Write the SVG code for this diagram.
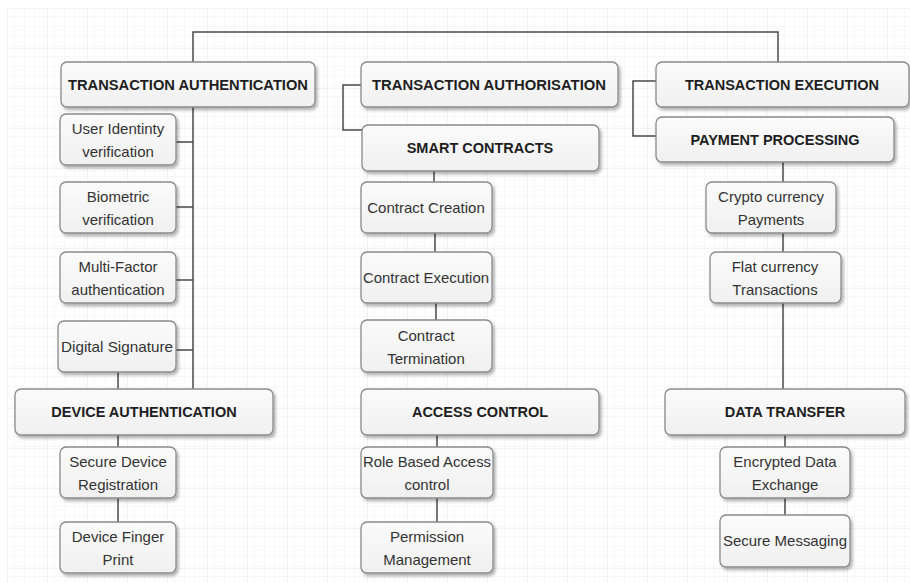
<svg xmlns="http://www.w3.org/2000/svg" width="910" height="583" viewBox="0 0 910 583">
<defs>
<pattern id="minor" width="10" height="10" patternUnits="userSpaceOnUse" x="7" y="8">
<path d="M10 0H0V10" fill="none" stroke="#f2f2f2" stroke-width="1"/>
</pattern>
<pattern id="major" width="40" height="40" patternUnits="userSpaceOnUse" x="7" y="8">
<rect width="40" height="40" fill="url(#minor)"/>
<path d="M40 0H0V40" fill="none" stroke="#e8e8e8" stroke-width="1.2"/>
</pattern>
<linearGradient id="boxg" x1="0" y1="0" x2="0" y2="1">
<stop offset="0" stop-color="#fbfbfb"/>
<stop offset="1" stop-color="#f0f0f0"/>
</linearGradient>
<filter id="sh" x="-10%" y="-20%" width="125%" height="150%">
<feDropShadow dx="2" dy="2.5" stdDeviation="1.6" flood-color="#000" flood-opacity="0.3"/>
</filter>
</defs>
<style>
.box{fill:url(#boxg);stroke:#8a8a8a;stroke-width:1.3;filter:url(#sh)}
.h{font-family:"Liberation Sans",Arial,sans-serif;font-weight:bold;font-size:14.5px;fill:#1e1e1e;text-anchor:middle}
.t{font-family:"Liberation Sans",Arial,sans-serif;font-size:15px;fill:#333;text-anchor:middle}
.c{fill:none;stroke:#4a4a4a;stroke-width:1.5}
</style>
<rect width="910" height="583" fill="#fff"/>
<rect x="7" y="8" width="903" height="575" fill="url(#major)"/>

<g id="connectors">
<path class="c" d="M193 62V32H778V62"/>
<path class="c" d="M193 107V389"/>
<path class="c" d="M176 142H193M176 207H193M176 280H193M176 350H193"/>
<path class="c" d="M118 372V389M118 435V447M118 498V522"/>
<path class="c" d="M361 85H343V130H362"/>
<path class="c" d="M434 171V182M435 233V252M436 303V320"/>
<path class="c" d="M437 435V447M437 498V522"/>
<path class="c" d="M656 81H633V136H656"/>
<path class="c" d="M783 162V182M783 233V252M783 303V389"/>
<path class="c" d="M785 435V447M785 498V515"/>
</g>

<g id="transaction-authentication">
<rect class="box" x="61" y="62" width="254" height="45" rx="6"/>
<text class="h" x="188" y="90" textLength="240" lengthAdjust="spacingAndGlyphs">TRANSACTION AUTHENTICATION</text>
</g>
<g id="user-identity">
<rect class="box" x="60" y="114" width="116" height="51" rx="6"/>
<text class="t" x="118" y="134">User Identinty</text>
<text class="t" x="118" y="157">verification</text>
</g>
<g id="biometric">
<rect class="box" x="60" y="182" width="116" height="51" rx="6"/>
<text class="t" x="118" y="202">Biometric</text>
<text class="t" x="118" y="225">verification</text>
</g>
<g id="multi-factor">
<rect class="box" x="60" y="252" width="116" height="51" rx="6"/>
<text class="t" x="118" y="272">Multi-Factor</text>
<text class="t" x="118" y="295">authentication</text>
</g>
<g id="digital-signature">
<rect class="box" x="58" y="321" width="118" height="51" rx="6"/>
<text class="t" x="117" y="352" textLength="112" lengthAdjust="spacingAndGlyphs">Digital Signature</text>
</g>
<g id="device-authentication">
<rect class="box" x="15" y="389" width="258" height="46" rx="6"/>
<text class="h" x="144" y="417">DEVICE AUTHENTICATION</text>
</g>
<g id="secure-device-registration">
<rect class="box" x="60" y="447" width="116" height="51" rx="6"/>
<text class="t" x="118" y="467">Secure Device</text>
<text class="t" x="118" y="490">Registration</text>
</g>
<g id="device-finger-print">
<rect class="box" x="60" y="522" width="116" height="51" rx="6"/>
<text class="t" x="118" y="542">Device Finger</text>
<text class="t" x="118" y="565">Print</text>
</g>

<g id="transaction-authorisation">
<rect class="box" x="361" y="62" width="257" height="45" rx="6"/>
<text class="h" x="489" y="90" textLength="234" lengthAdjust="spacingAndGlyphs">TRANSACTION AUTHORISATION</text>
</g>
<g id="smart-contracts">
<rect class="box" x="362" y="125" width="237" height="46" rx="6"/>
<text class="h" x="480" y="153">SMART CONTRACTS</text>
</g>
<g id="contract-creation">
<rect class="box" x="361" y="182" width="131" height="51" rx="6"/>
<text class="t" x="426" y="213">Contract Creation</text>
</g>
<g id="contract-execution">
<rect class="box" x="361" y="252" width="131" height="51" rx="6"/>
<text class="t" x="426" y="283" textLength="126" lengthAdjust="spacingAndGlyphs">Contract Execution</text>
</g>
<g id="contract-termination">
<rect class="box" x="361" y="320" width="131" height="52" rx="6"/>
<text class="t" x="426" y="341">Contract</text>
<text class="t" x="426" y="364">Termination</text>
</g>
<g id="access-control">
<rect class="box" x="361" y="389" width="238" height="46" rx="6"/>
<text class="h" x="480" y="417">ACCESS CONTROL</text>
</g>
<g id="role-based-access">
<rect class="box" x="361" y="447" width="132" height="51" rx="6"/>
<text class="t" x="427" y="467" textLength="128" lengthAdjust="spacingAndGlyphs">Role Based Access</text>
<text class="t" x="427" y="490">control</text>
</g>
<g id="permission-management">
<rect class="box" x="361" y="522" width="132" height="51" rx="6"/>
<text class="t" x="427" y="542">Permission</text>
<text class="t" x="427" y="565">Management</text>
</g>

<g id="transaction-execution">
<rect class="box" x="656" y="62" width="253" height="45" rx="6"/>
<text class="h" x="782" y="90">TRANSACTION EXECUTION</text>
</g>
<g id="payment-processing">
<rect class="box" x="656" y="117" width="238" height="45" rx="6"/>
<text class="h" x="775" y="145">PAYMENT PROCESSING</text>
</g>
<g id="crypto-payments">
<rect class="box" x="706" y="182" width="130" height="51" rx="6"/>
<text class="t" x="771" y="202">Crypto currency</text>
<text class="t" x="771" y="225">Payments</text>
</g>
<g id="fiat-transactions">
<rect class="box" x="710" y="252" width="131" height="51" rx="6"/>
<text class="t" x="775" y="272">Flat currency</text>
<text class="t" x="775" y="295">Transactions</text>
</g>
<g id="data-transfer">
<rect class="box" x="665" y="389" width="240" height="46" rx="6"/>
<text class="h" x="785" y="417">DATA TRANSFER</text>
</g>
<g id="encrypted-data-exchange">
<rect class="box" x="720" y="447" width="130" height="51" rx="6"/>
<text class="t" x="785" y="467">Encrypted Data</text>
<text class="t" x="785" y="490">Exchange</text>
</g>
<g id="secure-messaging">
<rect class="box" x="720" y="515" width="130" height="52" rx="6"/>
<text class="t" x="785" y="546" textLength="124" lengthAdjust="spacingAndGlyphs">Secure Messaging</text>
</g>
</svg>
